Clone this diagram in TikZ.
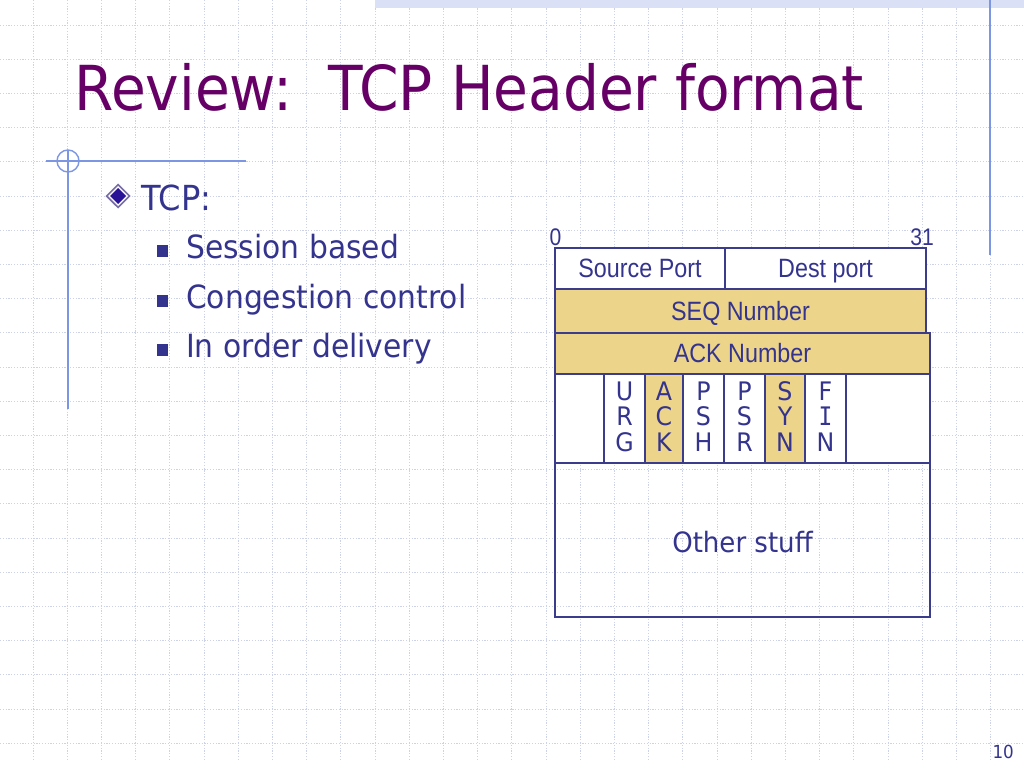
\documentclass[tikz,border=0pt]{standalone}
\usepackage{fontspec}
\setmainfont[FakeStretch=0.93]{DejaVu Sans}
\newfontfamily\titlefont[FakeStretch=0.913]{DejaVu Sans}
\newfontfamily\narrowfont[FakeStretch=0.88]{Liberation Sans}
\newfontfamily\serifIfont[FakeStretch=0.9]{DejaVu Sans Mono}
\definecolor{titlecol}{RGB}{102,0,102}
\definecolor{textcol}{RGB}{52,52,142}
\definecolor{boxcol}{RGB}{60,60,140}
\definecolor{decocol}{RGB}{125,150,228}
\definecolor{goldcol}{RGB}{236,212,138}
\definecolor{gridcol}{RGB}{205,210,232}
\definecolor{stripcol}{RGB}{218,224,246}
\definecolor{diamondring}{RGB}{120,110,165}
\definecolor{diamondfill}{RGB}{42,18,150}
\tikzset{
  gridline/.style={draw=gridcol, line width=0.8bp, dash pattern=on 1.2bp off 1.6bp},
  decoline/.style={draw=decocol, line width=1.4bp},
  cell/.style={draw=boxcol, line width=1.3bp, inner sep=0pt, outer sep=0pt, fill=white,
     anchor=north west, text=textcol, font=\narrowfont\fontsize{26.5bp}{30bp}\selectfont,
     text height=18.5bp, text depth=0bp},
  goldcell/.style={cell, fill=goldcol},
  flagletter/.style={inner sep=0pt, anchor=base, text=textcol, font=\fontsize{25.5bp}{27bp}\selectfont},
  bodytext/.style={inner sep=0pt, anchor=base west, text=textcol, font=\fontsize{32bp}{36bp}\selectfont},
  sqbullet/.style={fill=textcol, draw=none}
}
\begin{document}
\begin{tikzpicture}[x=1bp,y=-1bp]
\useasboundingbox (0,0) rectangle (1024,768);
\fill[white] (0,0) rectangle (1024,768);
% background grid
\foreach \k in {0,...,29} \draw[gridline] ({33+34.2*\k},0) -- ({33+34.2*\k},760);
\foreach \k in {0,...,21} \draw[gridline] (0,{25+34.2*\k}) -- (1024,{25+34.2*\k});
% top strip and decorative lines
\fill[stripcol] (375,0) rectangle (1024,8);
\draw[decoline] (990,0) -- (990,255);
\draw[decoline] (46,161) -- (246,161);
\draw[decoline] (68,150) -- (68,409);
\draw[decoline] (68,161) circle (11);
% title
\node[inner sep=0pt, anchor=base west, text=titlecol, font=\titlefont\fontsize{62bp}{70bp}\selectfont] (title) at (74,110) {Review:\ \ TCP Header format};
% bullets
\fill[diamondring] (118,183.5) -- (130.5,196) -- (118,208.5) -- (105.5,196) -- cycle;
\fill[white] (118,186) -- (128,196) -- (118,206) -- (108,196) -- cycle;
\fill[diamondfill] (118,188) -- (126,196) -- (118,204) -- (110,196) -- cycle;
\node[inner sep=0pt, anchor=base west, text=textcol, font=\fontsize{34.5bp}{38bp}\selectfont] (tcp) at (141,210) {TCP:};
\fill[sqbullet] (157,245) rectangle (168,257);
\node[bodytext] (session) at (186,258) {Session based};
\fill[sqbullet] (157,295) rectangle (168,307);
\node[bodytext] (congestion) at (186,308) {Congestion control};
\fill[sqbullet] (157,344) rectangle (168,356);
\node[bodytext] (inorder) at (186,357) {In order delivery};
% header diagram
\node[inner sep=0pt, anchor=base, text=textcol, font=\narrowfont\fontsize{24bp}{26bp}\selectfont] (bit0) at (555.5,245) {0};
\node[inner sep=0pt, anchor=base east, text=textcol, font=\narrowfont\fontsize{24bp}{26bp}\selectfont] (bit31) at (934,245) {31};
\node[cell, minimum width=170bp, minimum height=41bp] (srcport) at (555,248) {Source Port};
\node[cell, minimum width=201bp, minimum height=41bp] (dstport) at (725,248) {Dest port};
\node[goldcell, minimum width=371bp, minimum height=44bp] (seq) at (555,289) {SEQ Number};
\node[goldcell, minimum width=375bp, minimum height=41bp] (ack) at (555,333) {ACK Number};
\node[cell, minimum width=375bp, minimum height=89bp] (flagrow) at (555,374) {};
\node[cell, minimum width=41bp, minimum height=89bp] (urg) at (604,374) {};
\node[goldcell, minimum width=38bp, minimum height=89bp] (ackf) at (645,374) {};
\node[cell, minimum width=41bp, minimum height=89bp] (psh) at (683,374) {};
\node[cell, minimum width=41bp, minimum height=89bp] (psr) at (724,374) {};
\node[goldcell, minimum width=40bp, minimum height=89bp] (syn) at (765,374) {};
\node[cell, minimum width=41bp, minimum height=89bp] (fin) at (805,374) {};
\node[cell, fill=none, minimum width=375bp, minimum height=154bp] (other) at (555,463) {};
\node[inner sep=0pt, anchor=base, text=textcol, font=\fontsize{28bp}{30bp}\selectfont] (otherlbl) at (742.5,552) {Other stuff};
% flag letters
\node[flagletter] (u1) at (624.5,400) {U};
\node[flagletter] (u2) at (624.5,425.5) {R};
\node[flagletter] (u3) at (624.5,451) {G};
\node[flagletter] (a1) at (664,400) {A};
\node[flagletter] (a2) at (664,425.5) {C};
\node[flagletter] (a3) at (664,451) {K};
\node[flagletter] (p1) at (703.5,400) {P};
\node[flagletter] (p2) at (703.5,425.5) {S};
\node[flagletter] (p3) at (703.5,451) {H};
\node[flagletter] (r1) at (744.5,400) {P};
\node[flagletter] (r2) at (744.5,425.5) {S};
\node[flagletter] (r3) at (744.5,451) {R};
\node[flagletter] (s1) at (785,400) {S};
\node[flagletter] (s2) at (785,425.5) {Y};
\node[flagletter] (s3) at (785,451) {N};
\node[flagletter] (f1) at (825.5,400) {F};
\node[flagletter, font=\serifIfont\fontsize{25.5bp}{27bp}\selectfont] (f2) at (825.5,425.5) {I};
\node[flagletter] (f3) at (825.5,451) {N};
% page number
\node[inner sep=0pt, anchor=base east, text=textcol, font=\fontsize{18bp}{20bp}\selectfont] (pagenum) at (1014,758) {10};
\end{tikzpicture}
\end{document}
